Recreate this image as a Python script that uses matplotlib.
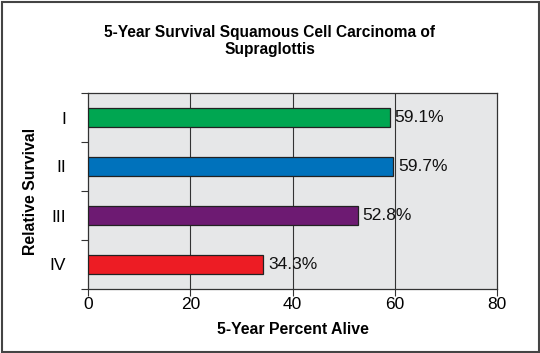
import matplotlib
matplotlib.use("Agg")
import matplotlib.pyplot as plt
from matplotlib.patches import Rectangle

stages = ["I", "II", "III", "IV"]
values = [59.1, 59.7, 52.8, 34.3]
labels = ["59.1%", "59.7%", "52.8%", "34.3%"]
colors = ["#00A651", "#0072BC", "#6D1A72", "#ED1C24"]
xticks = [0, 20, 40, 60, 80]

plt.rcParams['font.family'] = ['Liberation Sans', 'DejaVu Sans']

fig = plt.figure(figsize=(5.40, 3.53), dpi=100)
W, H = 540, 353
ax = fig.add_axes([88 / W, 1 - 289 / H, (497 - 88) / W, (289 - 93) / H])
ax.set_facecolor("#E6E7E8")

pos = list(range(len(stages)))
ax.barh(pos, values, height=0.39, color=colors, edgecolor="#222222", linewidth=0.9, zorder=3)
for p, v, lab in zip(pos, values, labels):
    ax.text(v + 0.9, p, lab, va="center", ha="left", fontsize=12.5, color="#111111", zorder=4)

ax.set_xlim(0, 80)
ax.set_ylim(3.5, -0.5)
ax.set_xticks(xticks)
ax.set_xticklabels([str(t) for t in xticks], fontsize=12.5)
ax.set_yticks(pos)
ax.set_yticklabels(stages, fontsize=12.5)
ax.tick_params(axis="y", which="major", length=0, pad=16)
ax.set_yticks([-0.5, 0.5, 1.5, 2.5, 3.5], minor=True)
ax.tick_params(axis="y", which="minor", length=5, width=0.8, color="#333333")
ax.tick_params(axis="x", length=5, width=0.8, color="#333333", pad=1)
for g in [20, 40, 60]:
    ax.axvline(g, color="#333333", linewidth=0.8, zorder=1)
for s in ax.spines.values():
    s.set_color("#333333")
    s.set_linewidth(0.9)

ax.set_xlabel("5-Year Percent Alive", fontsize=11.4, fontweight="bold", labelpad=7)
ax.set_ylabel("Relative Survival", fontsize=11.4, fontweight="bold", labelpad=8)

fig.text(0.5, 1 - 41 / H, "5-Year Survival Squamous Cell Carcinoma of\nSupraglottis",
         ha="center", va="center", fontsize=11.2, fontweight="bold", linespacing=1.15)

fig.patches.append(Rectangle((1.5 / W, 1.5 / H), 1 - 3 / W, 1 - 3 / H, transform=fig.transFigure,
                             fill=False, edgecolor="#444444", linewidth=1.5))

fig.savefig("out.png", dpi=100, facecolor="white")
